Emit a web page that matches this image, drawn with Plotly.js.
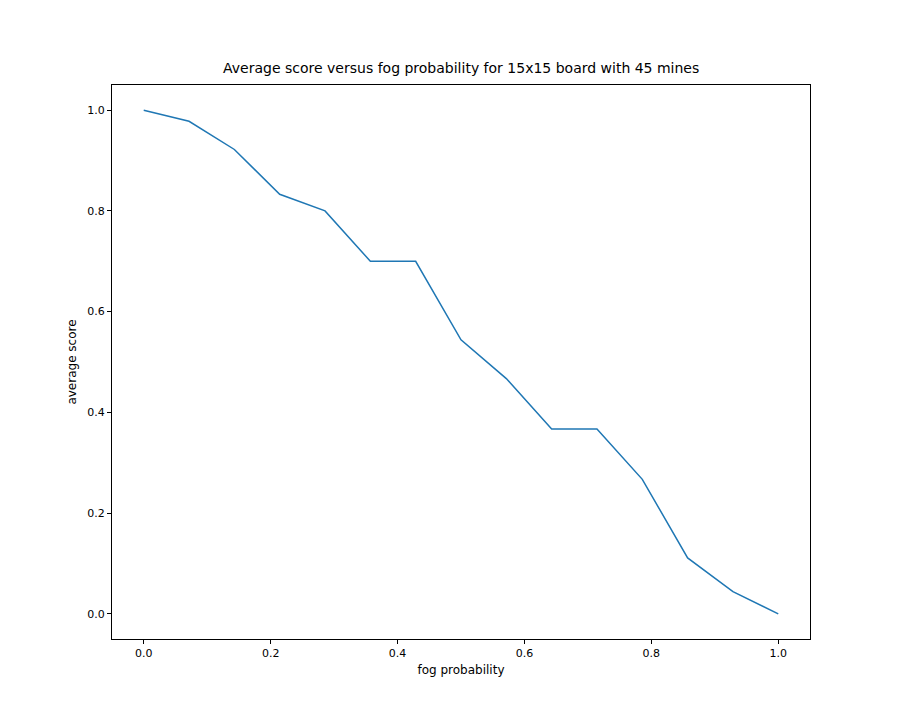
<!DOCTYPE html>
<html><head><script src="https://cdn.plot.ly/plotly-3.0.1.min.js"></script></head>
<body style="margin:0">
<div id="c" style="width:899px;height:719px"></div>
<script>
const fogProb = [0,1/14,2/14,3/14,4/14,5/14,6/14,7/14,8/14,9/14,10/14,11/14,12/14,13/14,1];
const avgScore = [1.0,0.978,0.922,0.833,0.8,0.7,0.7,0.544,0.467,0.367,0.367,0.267,0.111,0.044,0.0];
const xTicks = [0,0.2,0.4,0.6,0.8,1.0];
const xTickText = ['0.0','0.2','0.4','0.6','0.8','1.0'];
const yTicks = [0,0.2,0.4,0.6,0.8,1.0];
const yTickText = ['0.0','0.2','0.4','0.6','0.8','1.0'];
const ax = {showgrid:false,zeroline:false,showline:true,mirror:true,linecolor:'black',linewidth:1,
  ticks:'outside',ticklen:4,tickcolor:'black',tickfont:{size:11,color:'black'}};
Plotly.newPlot('c',[{x:fogProb,y:avgScore,mode:'lines',line:{color:'#1f77b4',width:1.5}}],{
  width:899,height:719,margin:{l:112,r:89,t:85,b:80},
  font:{family:'DejaVu Sans',color:'black'},
  paper_bgcolor:'white',plot_bgcolor:'white',showlegend:false,
  title:{text:'Average score versus fog probability for 15x15 board with 45 mines',font:{size:14},x:0.513,xanchor:'center',y:0.898,yanchor:'bottom'},
  xaxis:Object.assign({},ax,{range:[-0.05,1.05],tickvals:xTicks,ticktext:xTickText,title:{text:'fog probability',font:{size:12},standoff:6}}),
  yaxis:Object.assign({},ax,{range:[-0.05,1.05],tickvals:yTicks,ticktext:yTickText,title:{text:'average score',font:{size:12},standoff:8}})
},{displayModeBar:false});
</script></body></html>
